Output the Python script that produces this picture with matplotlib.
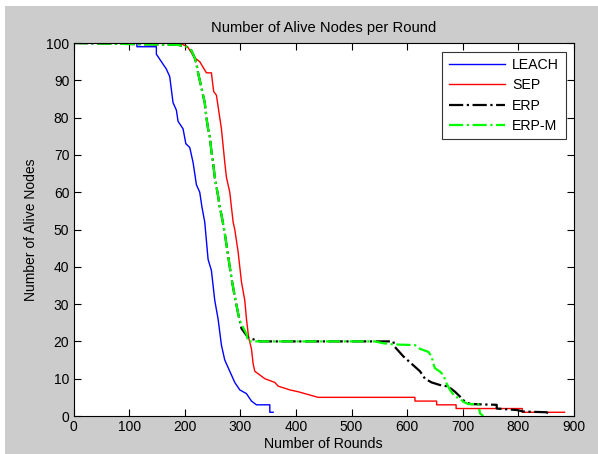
import matplotlib
matplotlib.use('Agg')
import matplotlib.pyplot as plt
from matplotlib.patches import Rectangle

params = {
    'font.family': ['Liberation Sans', 'DejaVu Sans'],
    'font.size': 10,
    'xtick.direction': 'in',
    'ytick.direction': 'in',
    'xtick.top': True,
    'ytick.right': True,
}
plt.rcParams.update(params)

# LEACH
leach_x = [0, 114, 114, 149, 149, 158, 167, 173, 179, 185, 188, 197, 202, 209,
           215, 221, 227, 231, 236, 242, 248, 254, 260, 266, 272, 278, 284,
           290, 299, 311, 320, 329, 353, 353, 359]
leach_y = [100, 100, 99, 99, 97, 95, 93, 91, 84, 82, 79, 77, 73, 72,
           68, 62, 60, 56, 52, 42, 39, 31, 26, 19, 15, 13, 11,
           9, 7, 6, 4, 3, 3, 1, 1]

# SEP
sep_x = [0, 190, 205, 218, 227, 239, 248, 252, 257, 266, 272, 275, 281, 287,
         290, 296, 302, 308, 311, 315, 320, 323, 326, 335, 344, 362, 368,
         389, 404, 440, 614, 614, 653, 653, 688, 688, 807, 807, 883]
sep_y = [100, 100, 99, 96, 95, 92, 92, 87, 86, 77, 68, 64, 60, 52,
         50, 44, 36, 31, 26, 21, 18, 14, 12, 11, 10, 9, 8,
         7, 6.5, 5, 5, 4, 4, 3, 3, 2, 2, 1, 1]

# ERP
erp_x = [0, 188, 203, 212, 218, 221, 224, 230, 236, 239, 242, 245, 248, 251,
         254, 257, 260, 263, 266, 272, 278, 284, 290, 296, 299, 302, 314,
         335, 575, 578, 593, 608, 623, 632, 644, 659, 674, 686, 695, 704,
         714, 761, 761, 797, 809, 851, 854]
erp_y = [100, 99.5, 99, 98, 96, 94.5, 92, 88, 84, 80, 77, 75, 71, 68,
         64, 61.5, 59, 56, 54, 49, 43, 37, 32, 27.5, 25.5, 23.5, 21,
         20, 20, 18.5, 16, 14, 12, 10, 9, 8.3, 7.9, 6.5, 5.2, 3.8,
         3.2, 3, 2, 1.6, 1.2, 1, 0.5]

# ERP-M
erpm_x = [0, 188, 203, 212, 218, 221, 224, 230, 236, 239, 242, 245, 248, 251,
          254, 257, 260, 263, 266, 272, 278, 284, 290, 296, 299, 311, 314,
          542, 557, 575, 614, 623, 638, 644, 647, 650, 659, 665, 671, 677,
          686, 695, 701, 710, 728, 731, 737]
erpm_y = [100, 99.5, 99, 98, 96, 94.5, 92, 88, 84, 80, 77, 75, 71, 68,
          64, 61.5, 59, 56, 54, 49, 43, 37, 32, 27.5, 25.5, 22, 20,
          20, 19.5, 19.2, 19, 18, 17.2, 16, 14, 12.8, 11.9, 11, 8.7, 7,
          5.2, 4.7, 3.8, 3.2, 3.2, 0.7, 0]

fig = plt.figure(figsize=(5.98, 4.54), dpi=100)
fig.patch.set_facecolor('#cccccc')
# white strips from the screenshot edges
fig.patches.append(Rectangle((0, 1 - 6 / 454.), 1, 6 / 454., transform=fig.transFigure,
                             facecolor='white', edgecolor='none', zorder=0))
fig.patches.append(Rectangle((0, 0), 5 / 598., 1, transform=fig.transFigure,
                             facecolor='white', edgecolor='none', zorder=0))

ax = fig.add_axes([73.5 / 598., 1 - 416 / 454., 500.5 / 598., 373 / 454.])

ax.plot(leach_x, leach_y, color='#0000ff', lw=1.0, label='LEACH')
ax.plot(sep_x, sep_y, color='#ff0000', lw=1.0, label='SEP')
ax.plot(erp_x, erp_y, color='black', lw=1.6, ls='-.', label='ERP')
ax.plot(erpm_x, erpm_y, color='#00ff00', lw=1.6, ls='-.', label='ERP-M')

ax.set_xlim(0, 900)
ax.set_ylim(0, 100)
ax.set_xticks(range(0, 901, 100))
ax.set_yticks(range(0, 101, 10))
ax.tick_params(length=5, width=0.8, colors='black', labelsize=10, pad=3)
for s in ax.spines.values():
    s.set_linewidth(0.8)

ax.set_title('Number of Alive Nodes per Round', fontsize=10.6, pad=8)
ax.set_xlabel('Number of Rounds', fontsize=10.2, labelpad=2)
ax.set_ylabel('Number of Alive Nodes', fontsize=10, labelpad=6)

leg = ax.legend(loc='upper right', fontsize=10.2, frameon=True, fancybox=False,
                edgecolor='black', borderaxespad=0.6, handlelength=4.0,
                labelspacing=0.45, borderpad=0.45, handletextpad=0.5)
leg.get_frame().set_linewidth(0.8)

plt.savefig('out.png', dpi=100, facecolor=fig.get_facecolor())
